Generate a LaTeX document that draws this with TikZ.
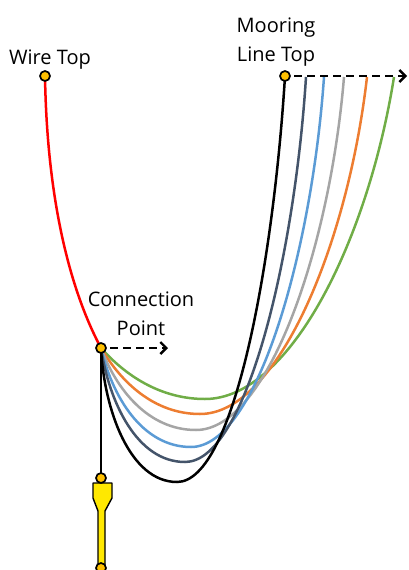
\documentclass[tikz,border=0pt]{standalone}
\usepackage{fontspec}
\setmainfont{Open Sans}
\usetikzlibrary{arrows.meta}

\definecolor{wirered}{RGB}{255,0,0}
\definecolor{dotfill}{RGB}{255,192,0}
\definecolor{clampfill}{RGB}{255,232,0}
\definecolor{lnslate}{RGB}{68,84,106}
\definecolor{lnblue}{RGB}{91,155,213}
\definecolor{lngray}{RGB}{165,165,165}
\definecolor{lnorange}{RGB}{237,125,49}
\definecolor{lngreen}{RGB}{112,173,71}

\tikzset{
  joint/.style={circle, draw=black, fill=dotfill, line width=1.7pt,
                minimum size=10pt, inner sep=0pt},
  lbl/.style={anchor=base, font=\fontsize{20}{24}\selectfont, inner sep=0pt},
  line/.style={line width=2.5pt},
  motion/.style={line width=2.4pt, dash pattern=on 8pt off 5pt,
                 -{Straight Barb[length=6pt,width=12pt,line width=2.4pt]}}
}

\begin{document}
\begin{tikzpicture}[x=1pt,y=-1pt]
\useasboundingbox (0,0) rectangle (408,570);

% end points of the lines
\coordinate (wt) at (45,76);
\coordinate (cp) at (101,348);
\coordinate (mt) at (285,76);
\coordinate (ct) at (101,478);
\coordinate (cb) at (101,568);

% tops of the displaced mooring lines
\coordinate (top1) at (306,77);
\coordinate (top2) at (324,77);
\coordinate (top3) at (344,77);
\coordinate (top4) at (367,77);
\coordinate (top5) at (394,77);

% labels
\node[lbl] (lwire) at (50,64) {Wire Top};
\node[lbl] (lmoor1) at (276,32) {Mooring};
\node[lbl] (lmoor2) at (276,61) {Line Top};
\node[lbl] (lconn1) at (141,306) {Connection};
\node[lbl] (lconn2) at (141,335) {Point};

% mooring line shapes, outermost first
\draw[line, lngreen] (cp) .. controls (125,375) and (160,399) .. (205,399)
  .. controls (290,399) and (368,240) .. (top5);
\draw[line, lnorange] (cp) .. controls (121,382) and (154,414) .. (200,414)
  .. controls (278,414) and (348,243) .. (top4);
\draw[line, lngray] (cp) .. controls (116,389) and (148,430) .. (196,430)
  .. controls (268,430) and (330,247) .. (top3);
\draw[line, lnblue] (cp) .. controls (112,396) and (142,447) .. (191,447)
  .. controls (257,447) and (312,250) .. (top2);
\draw[line, lnslate] (cp) .. controls (109,402) and (137,462) .. (185,462)
  .. controls (247,462) and (295,252) .. (top1);
\draw[line, black] (cp) .. controls (104,410) and (130,482) .. (177,482)
  .. controls (235,482) and (274,256) .. (mt);

% wire from the top to the connection point
\draw[line, wirered] (wt) .. controls (47,200) and (70,290) .. (cp);

% hanging line and clamp
\draw[line width=2.2pt, black] (cp) -- (ct);
\draw[line width=1.4pt, fill=clampfill, line join=round]
  (93,483) -- (112,483) -- (112,498) -- (105,511) -- (105,565)
  -- (98,565) -- (98,511) -- (93,498) -- cycle;

% offset arrows
\coordinate (ca) at (168,348);
\coordinate (ma) at (407,76);
\draw[motion] ([xshift=9pt]cp) -- (ca);
\draw[motion] ([xshift=9pt]mt) -- (ma);

% joints
\node[joint] (nwt) at (wt) {};
\node[joint] (nmt) at (mt) {};
\node[joint] (ncp) at (cp) {};
\node[joint] (nct) at (ct) {};
\node[joint] (ncb) at (cb) {};
\end{tikzpicture}
\end{document}
